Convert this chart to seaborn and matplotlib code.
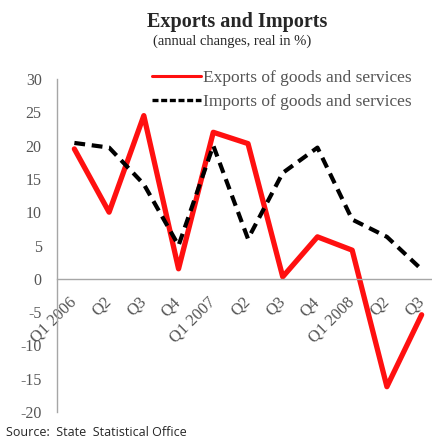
import matplotlib
matplotlib.use("Agg")
import matplotlib.pyplot as plt
from matplotlib.lines import Line2D
import numpy as np
import pandas as pd
import seaborn as sns

quarters = ["Q1 2006", "Q2", "Q3", "Q4", "Q1 2007", "Q2", "Q3", "Q4",
            "Q1 2008", "Q2", "Q3"]
exports = [19.5, 10.0, 24.5, 1.5, 22.0, 20.3, 0.3, 6.3, 4.3, -16.2, -5.4]
imports = [20.4, 19.7, 14.2, 5.0, 20.0, 6.0, 15.9, 19.7, 8.9, 6.3, 1.4]
yticks = [-20, -15, -10, -5, 0, 5, 10, 15, 20, 25, 30]

sns.set_style("white")
plt.rcParams["font.family"] = ["Liberation Serif", "DejaVu Serif"]

pos = np.arange(len(quarters))
df = pd.DataFrame({"pos": pos, "Exports": exports, "Imports": imports})

fig = plt.figure(figsize=(4.32, 4.41), dpi=100)
ax = fig.add_axes([57 / 432, 29 / 441, 382 / 432, 333 / 441])

sns.lineplot(data=df, x="pos", y="Exports", ax=ax, color="#ff1010",
             linewidth=3.8, legend=False)
sns.lineplot(data=df, x="pos", y="Imports", ax=ax, color="black",
             linewidth=3.0, legend=False)
ax.lines[1].set_dashes((2.6, 1.6))

ax.set_xlim(-0.5, len(quarters) - 0.5)
ax.set_ylim(-20, 30)
ax.set_xlabel("")
ax.set_ylabel("")

grey = "#a6a6a6"
text_grey = "#555555"
for side in ["top", "right"]:
    ax.spines[side].set_visible(False)
ax.spines["left"].set_color(grey)
ax.spines["bottom"].set_color(grey)
ax.spines["left"].set_linewidth(1.0)
ax.spines["bottom"].set_linewidth(1.0)
ax.spines["bottom"].set_position(("data", 0))

ax.set_yticks(yticks)
ax.set_yticklabels([str(v) for v in yticks], fontsize=11.5, color=text_grey)
ax.tick_params(axis="y", direction="out", length=4, color=grey, width=1, pad=7)

ax.set_xticks(pos)
ax.set_xticklabels(quarters, rotation=45, ha="right", va="center",
                   rotation_mode="anchor", fontsize=12, color=text_grey)
ax.set_xticks(np.arange(len(quarters) + 1) - 0.5, minor=True)
ax.tick_params(axis="x", which="major", length=0, pad=15)
ax.tick_params(axis="x", which="minor", direction="out", length=4,
               color=grey, width=1)

handles = [
    Line2D([], [], color="#ff1010", linewidth=2.2),
    Line2D([], [], color="black", linewidth=2.4, dashes=(1.8, 0.8)),
]
fig.legend(handles, ["Exports of goods and services",
                     "Imports of goods and services"],
           loc="upper left", bbox_to_anchor=(152 / 432, 1 - 70 / 441),
           frameon=False, fontsize=12.5, handlelength=2.8, handletextpad=0.15,
           labelspacing=0.45, labelcolor=text_grey, borderaxespad=0,
           borderpad=0)

fig.text(237 / 432, 1 - 22 / 441, "Exports and Imports", ha="center",
         va="center", fontsize=14.5, fontweight="bold", color="#262626")
fig.text(232 / 432, 1 - 41 / 441, "(annual changes, real in %)",
         ha="center", va="center", fontsize=10.5, color="#262626")
fig.text(6 / 432, 1 - 433 / 441, "Source:  State  Statistical Office",
         ha="left", va="center", fontsize=9, color="#262626",
         family=["Open Sans", "DejaVu Sans"])

fig.savefig("out.png", dpi=100)
